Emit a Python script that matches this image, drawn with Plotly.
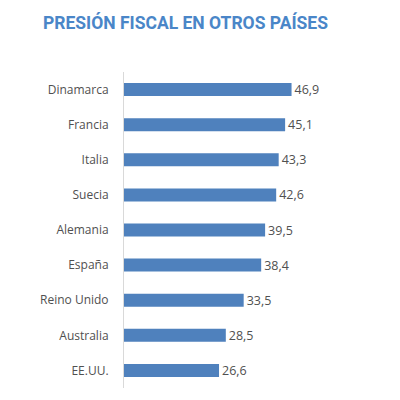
import plotly.graph_objects as go

TITLE = 'PRESIÓN FISCAL EN OTROS PAÍSES'

countries = ['Dinamarca', 'Francia', 'Italia', 'Suecia', 'Alemania',
             'España', 'Reino Unido', 'Australia', 'EE.UU.']
values = [46.9, 45.1, 43.3, 42.6, 39.5, 38.4, 33.5, 28.5, 26.6]

BAR_COLOR = '#4f81bd'
TEXT_COLOR = '#505050'

labels = [f'{v:.1f}'.replace('.', ',') for v in values]

fig = go.Figure(go.Bar(
    x=values,
    y=countries,
    orientation='h',
    marker=dict(color=BAR_COLOR, line=dict(width=0)),
    width=0.37,
    text=labels,
    textposition='outside',
    constraintext='none',
    textfont=dict(family='Open Sans, sans-serif', size=12.5, color=TEXT_COLOR),
    cliponaxis=False,
))

# the page body adds ~8px around the plot, so margins are offset by that
fig.update_layout(
    width=400, height=400,
    margin=dict(l=116, r=20, t=64, b=20),
    paper_bgcolor='white',
    plot_bgcolor='white',
    showlegend=False,
    title=dict(
        text=f'<b>{TITLE}</b>',
        x=35 / 400, xanchor='left',
        y=1 - 15 / 400, yanchor='middle',
        font=dict(family='Roboto, sans-serif', size=17.5, color='#4a86c8'),
    ),
    xaxis=dict(range=[0, 73.9], visible=False, automargin=False),
    yaxis=dict(
        autorange='reversed', automargin=False,
        showline=True, linecolor='#d9d9d9', linewidth=1,
        ticks='', ticklabelstandoff=12,
        tickfont=dict(family='Open Sans, sans-serif', size=12, color=TEXT_COLOR),
        showgrid=False,
    ),
)

fig.write_html('out.html')
